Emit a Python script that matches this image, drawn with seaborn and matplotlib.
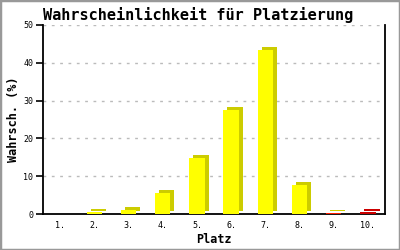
import matplotlib
matplotlib.use("Agg")
import matplotlib.pyplot as plt
import matplotlib.transforms as mtransforms
from matplotlib.patches import Rectangle
import seaborn as sns
import pandas as pd

places = ['1.', '2.', '3.', '4.', '5.', '6.', '7.', '8.', '9.', '10.']
values = [0, 0.5, 1.1, 5.6, 14.7, 27.6, 43.3, 7.8, 0.3, 0.4]
front_colors = ['#ffff00'] * 8 + ['#ff2000', '#cc0000']
side_colors = ['#cccc00'] * 9 + ['#cc0000']
y_ticks = [0, 10, 20, 30, 40, 50]

df = pd.DataFrame({'Platz': places, 'Wert': values})

sns.set_style('white')
plt.rcParams.update({'text.color': 'black', 'axes.labelcolor': 'black',
                     'xtick.color': 'black', 'ytick.color': 'black'})
mono = ['DejaVu Sans Mono']

fig = plt.figure(figsize=(4, 2.5), dpi=100)
ax = fig.add_axes([43 / 400, 36 / 250, 342 / 400, 189 / 250])

# shadow (3D side/top) bars
sns.barplot(data=df, x='Platz', y='Wert', hue='Platz', palette=side_colors,
            legend=False, width=0.45, saturation=1, ax=ax, zorder=2)
shift = mtransforms.ScaledTranslation(4 / 100, 3 / 100, fig.dpi_scale_trans)
for p in list(ax.patches):
    p.set_transform(ax.transData + shift)
    p.set_linewidth(0)
n_shadow = len(ax.patches)

# front faces
sns.barplot(data=df, x='Platz', y='Wert', hue='Platz', palette=front_colors,
            legend=False, width=0.45, saturation=1, ax=ax, zorder=3)
for p in ax.patches[n_shadow:]:
    p.set_linewidth(0)

ax.set_xlim(-0.5, 9.5)
ax.set_ylim(0, 50)
ax.set_yticks(y_ticks)
ax.set_yticklabels([str(t) for t in y_ticks], family=mono, fontsize=6, color='black')
ax.set_xticks(range(len(places)))
ax.set_xticklabels(places, family=mono, fontsize=6, color='black')
ax.tick_params(axis='x', length=0, pad=5)
ax.tick_params(axis='y', length=5, width=1.2, pad=2, direction='out', left=True, color='black')

for t in y_ticks[1:]:
    ax.axhline(t, color='#bbbbbb', linewidth=1, linestyle=(0, (2, 4)), zorder=1)

for s in ['left', 'bottom', 'right']:
    ax.spines[s].set_visible(True)
    ax.spines[s].set_color('black')
    ax.spines[s].set_linewidth(1.3)
ax.spines['top'].set_visible(False)

ax.set_xlabel('Platz', family=mono, fontsize=8.5, fontweight='bold', labelpad=2, color='black')
ax.set_ylabel('Wahrsch. (%)', family=mono, fontsize=8.5, fontweight='bold', labelpad=2, color='black')

fig.text(198 / 400, 1 - 15 / 250, 'Wahrscheinlichkeit für Platzierung', family=mono,
         fontsize=11, fontweight='bold', ha='center', va='center', color='black')

fig.patches.append(Rectangle((0, 0), 1, 1, transform=fig.transFigure, fill=False,
                             edgecolor='#999999', linewidth=2.5))

fig.savefig('out.png', dpi=100)
